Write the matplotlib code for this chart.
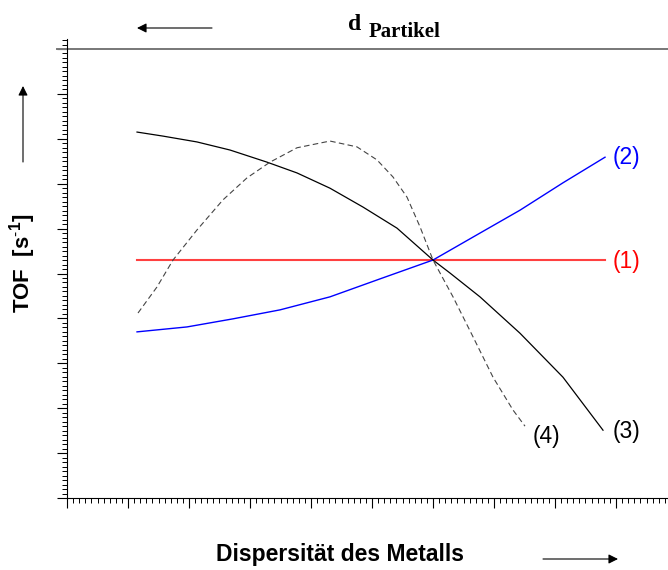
import numpy as np
import matplotlib.pyplot as plt
from matplotlib.ticker import MultipleLocator

plt.rcParams['font.family'] = ['Liberation Sans', 'DejaVu Sans']
plt.rcParams['mathtext.fontset'] = 'custom'
plt.rcParams['mathtext.rm'] = 'Liberation Sans'
plt.rcParams['mathtext.bf'] = 'Liberation Sans:bold'

# Kurve (1): konstant
x1 = [1.15, 8.82]
y1 = [5.30, 5.30]

# Kurve (2): steigend
x2 = [1.148, 1.967, 2.721, 3.492, 4.311, 5.131, 6.000, 6.770, 7.426, 8.131, 8.820]
y2 = [3.70, 3.81, 3.99, 4.19, 4.48, 4.88, 5.30, 5.90, 6.41, 7.02, 7.59]

# Kurve (3): fallend
x3 = [1.148, 1.574, 2.131, 2.672, 3.279, 3.770, 4.311, 4.852, 5.410, 6.000,
      6.279, 6.770, 7.426, 8.131, 8.787]
y3 = [8.15, 8.06, 7.93, 7.75, 7.48, 7.24, 6.90, 6.48, 6.01, 5.30,
      5.01, 4.48, 3.67, 2.69, 1.51]

# Kurve (4): Maximum
x4 = [1.164, 1.475, 1.738, 2.131, 2.557, 2.951, 3.328, 3.770, 4.311, 4.754,
      5.082, 5.344, 5.574, 5.787, 6.000, 6.328, 6.656, 6.984, 7.311, 7.508]
y4 = [4.12, 4.70, 5.30, 5.97, 6.64, 7.13, 7.48, 7.80, 7.95, 7.82,
      7.53, 7.15, 6.70, 6.04, 5.30, 4.48, 3.59, 2.69, 1.96, 1.60]

labels = ['(1)', '(2)', '(3)', '(4)']
label_pos = [(8.95, 5.26), (8.95, 7.59), (8.95, 1.47), (7.64, 1.36)]
label_colors = ['#ff0000', '#0000ff', 'black', 'black']

W, H = 668, 570
fig = plt.figure(figsize=(W / 100, H / 100), dpi=100)
ax = fig.add_axes([67 / W, 72 / H, 601 / W, 459 / H])
ax.set_xlim(0, 601 / 61)
ax.set_ylim(0, 459 / 44.9)

ax.plot(x1, y1, color='#ff4040', lw=1.5)
ax.plot(x2, y2, color='#0000ff', lw=1.0)
ax.plot(x3, y3, color='black', lw=0.9)
ax.plot(x4, y4, color='#444444', lw=0.8, dashes=(5, 3))

for lab, (lx, ly), c in zip(labels, label_pos, label_colors):
    ax.text(lx, ly, lab, color=c, fontsize=16.5, ha='left', va='center')

# Achsen
for s in ['top', 'right']:
    ax.spines[s].set_visible(False)
for s in ['left', 'bottom']:
    ax.spines[s].set_linewidth(0.8)
ax.xaxis.set_major_locator(MultipleLocator(1))
ax.xaxis.set_minor_locator(MultipleLocator(0.1))
ax.yaxis.set_major_locator(MultipleLocator(1))
ax.yaxis.set_minor_locator(MultipleLocator(0.1))
ax.tick_params(which='major', direction='out', length=7.2, width=0.8,
               labelbottom=False, labelleft=False)
ax.tick_params(which='minor', direction='out', length=3.6, width=0.7)

# obere graue Linie
ax.plot([-10 / 61, 601 / 61], [10, 10], color='#777777', lw=1.4, clip_on=False)

# Pfeile
arrow = dict(arrowstyle='-|>', color='black', lw=0.8, mutation_scale=14,
             shrinkA=0, shrinkB=0)
ax.annotate('', xy=(137, H - 28), xytext=(212, H - 28),
            xycoords='figure pixels', textcoords='figure pixels', arrowprops=arrow)
ax.annotate('', xy=(23, H - 86), xytext=(23, H - 162),
            xycoords='figure pixels', textcoords='figure pixels', arrowprops=arrow)
ax.annotate('', xy=(618, H - 559), xytext=(543, H - 559),
            xycoords='figure pixels', textcoords='figure pixels', arrowprops=arrow)

# Beschriftungen
fig.text(23 / W, (H - 263) / H, r'TOF  [s$^{\mathbf{\text{-}1}}$]', rotation=90,
         fontsize=16, fontweight='bold', ha='center', va='center')
fig.text(340 / W, (H - 555) / H, 'Dispersität des Metalls', fontsize=16.5,
         fontweight='bold', ha='center', va='center')
fig.text(348 / W, (H - 30) / H, 'd', family='Liberation Serif', fontsize=17,
         fontweight='bold', ha='left', va='baseline')
fig.text(369 / W, (H - 37) / H, 'Partikel', family='Liberation Serif',
         fontsize=15, fontweight='bold', ha='left', va='baseline')

fig.savefig('out.png', dpi=100)
